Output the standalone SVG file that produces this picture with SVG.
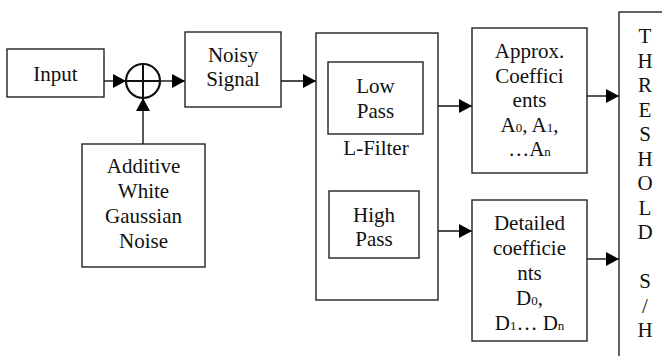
<svg xmlns="http://www.w3.org/2000/svg" width="662" height="356" viewBox="0 0 662 356">
<style>
  .box { fill: #fff; stroke: #222; stroke-width: 1.4; }
  .t { font-family: 'Liberation Serif', 'Times New Roman', 'DejaVu Serif', serif; font-size: 21px; fill: #111; text-anchor: middle; }
  .c { stroke: #111; stroke-width: 1.4; fill: none; }
  .sub { font-size: 13px; }
</style>
<defs>
  <marker id="ah" markerUnits="userSpaceOnUse" markerWidth="14" markerHeight="14" refX="13" refY="7" orient="auto">
    <path d="M0,0 L13,7 L0,14 z" fill="#000"/>
  </marker>
</defs>
<rect width="662" height="356" fill="#fff"/>
<g id="connectors">
  <line class="c" x1="104" y1="81" x2="126" y2="81" marker-end="url(#ah)"/>
  <line class="c" x1="160" y1="81" x2="185" y2="81" marker-end="url(#ah)"/>
  <line class="c" x1="281" y1="81" x2="316" y2="81" marker-end="url(#ah)"/>
  <line class="c" x1="143" y1="144" x2="143" y2="98" marker-end="url(#ah)"/>
  <line class="c" x1="438" y1="106" x2="472" y2="106" marker-end="url(#ah)"/>
  <line class="c" x1="438" y1="231" x2="472" y2="231" marker-end="url(#ah)"/>
  <line class="c" x1="587" y1="96" x2="619" y2="96" marker-end="url(#ah)"/>
  <line class="c" x1="587" y1="259" x2="619" y2="259" marker-end="url(#ah)"/>
</g>
<g id="input">
  <rect class="box" x="7" y="49" width="97" height="48"/>
  <text class="t" x="55.5" y="81">Input</text>
</g>
<g id="adder">
  <circle cx="143" cy="81" r="17" fill="#fff" stroke="#111" stroke-width="2.2"/>
  <line x1="126" y1="81" x2="160" y2="81" stroke="#111" stroke-width="2"/>
  <line x1="143" y1="64" x2="143" y2="98" stroke="#111" stroke-width="2"/>
</g>
<g id="noise">
  <rect class="box" x="82" y="144" width="123" height="123"/>
  <text class="t" x="143.5" y="173">Additive</text>
  <text class="t" x="143.5" y="198">White</text>
  <text class="t" x="143.5" y="223">Gaussian</text>
  <text class="t" x="143.5" y="248">Noise</text>
</g>
<g id="noisy">
  <rect class="box" x="185" y="32" width="96" height="75"/>
  <text class="t" x="233" y="62">Noisy</text>
  <text class="t" x="233" y="86">Signal</text>
</g>
<g id="lfilter">
  <rect class="box" x="316" y="33" width="122" height="267"/>
  <text class="t" x="376" y="155">L-Filter</text>
</g>
<g id="lowpass">
  <rect class="box" x="328" y="62" width="95" height="72"/>
  <text class="t" x="375.5" y="93">Low</text>
  <text class="t" x="375.5" y="118">Pass</text>
</g>
<g id="highpass">
  <rect class="box" x="329" y="191" width="90" height="67"/>
  <text class="t" x="374" y="222">High</text>
  <text class="t" x="374" y="246">Pass</text>
</g>
<g id="approx">
  <rect class="box" x="472" y="28" width="115" height="145"/>
  <text class="t" x="529.5" y="58">Approx.</text>
  <text class="t" x="529.5" y="82.5">Coeffici</text>
  <text class="t" x="529.5" y="107">ents</text>
  <text class="t" x="529.5" y="131.5">A<tspan class="sub">0</tspan>, A<tspan class="sub">1</tspan>,</text>
  <text class="t" x="529.5" y="156">…A<tspan class="sub">n</tspan></text>
</g>
<g id="detailed">
  <rect class="box" x="472" y="200" width="115" height="141"/>
  <text class="t" x="529.5" y="230">Detailed</text>
  <text class="t" x="529.5" y="255">coefficie</text>
  <text class="t" x="529.5" y="280">nts</text>
  <text class="t" x="529.5" y="305">D<tspan class="sub">0</tspan>,</text>
  <text class="t" x="529.5" y="330">D<tspan class="sub">1</tspan>… D<tspan class="sub">n</tspan></text>
</g>
<g id="threshold">
  <rect class="box" x="619" y="12" width="60" height="360"/>
  <text class="t" x="645" y="43">T</text>
  <text class="t" x="645" y="67.5">H</text>
  <text class="t" x="645" y="92">R</text>
  <text class="t" x="645" y="116.5">E</text>
  <text class="t" x="645" y="141">S</text>
  <text class="t" x="645" y="165.5">H</text>
  <text class="t" x="645" y="190">O</text>
  <text class="t" x="645" y="214.5">L</text>
  <text class="t" x="645" y="239">D</text>
  <text class="t" x="645" y="288">S</text>
  <text class="t" x="645" y="312.5">/</text>
  <text class="t" x="645" y="337">H</text>
</g>
</svg>
